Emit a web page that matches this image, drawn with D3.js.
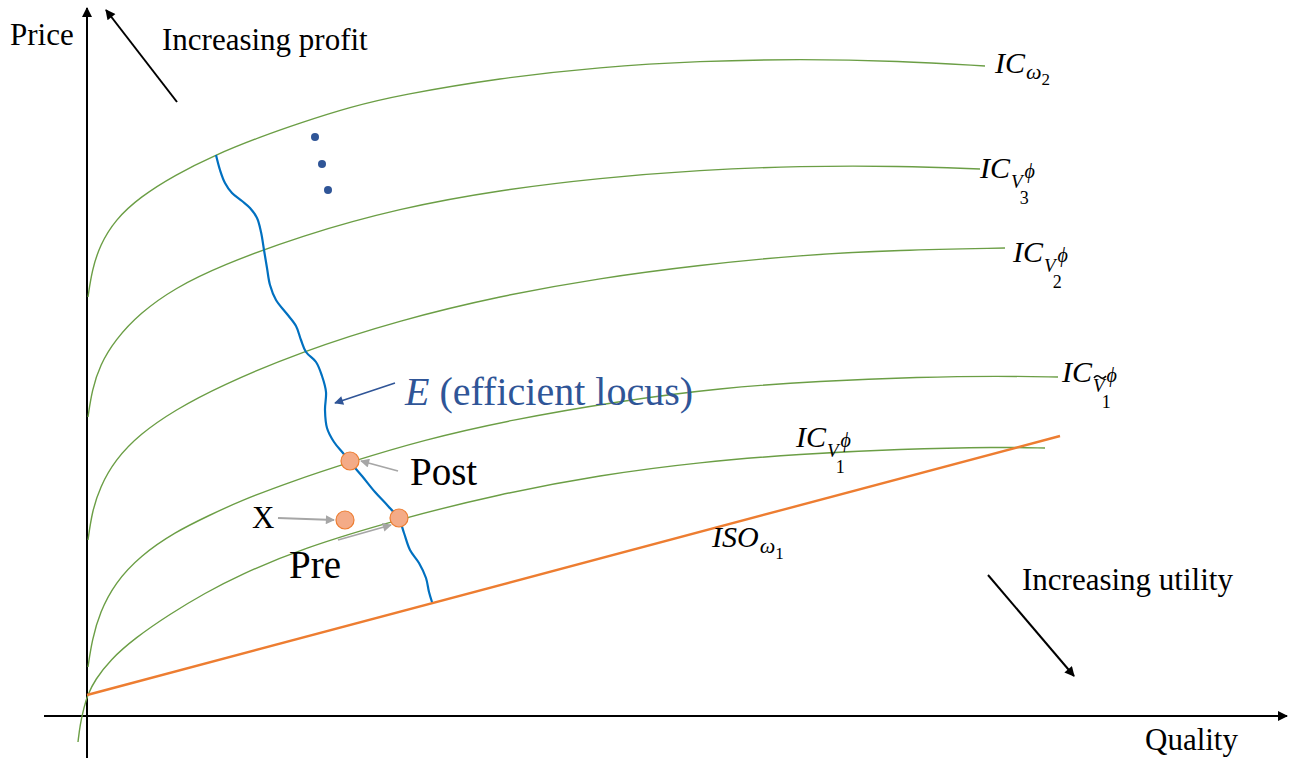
<!DOCTYPE html>
<html>
<head>
<meta charset="utf-8">
<script src="https://cdn.jsdelivr.net/npm/d3@7"></script>
<style>
  body { margin: 0; background: #fff; }
  svg { display: block; }
</style>
</head>
<body>
<svg id="chart" width="1291" height="761"></svg>
<script>
// values: [quality, price], origin where the axes cross
const icOmega2 = [[1,419],[5,446],[13,471],[28,496],[53,519],[88,541],[128,561],[173,579],[213,593],[263,609],[313,621],[413,638],[513,649],[613,655],[713,657],[813,655],[898,650]];
const icV3 = [[1,299],[5,326],[13,351],[28,376],[53,403],[88,428],[133,450],[213,480],[313,508],[413,526],[513,538],[613,546],[713,550],[813,550],[893,547]];
const icV2 = [[1,176],[5,204],[13,229],[28,256],[53,282],[88,306],[133,330],[213,364],[313,396],[413,420],[513,438],[613,451],[713,461],[813,466],[918,468]];
const icV1tilde = [[1,49],[5,76],[13,104],[28,133],[53,160],[88,184],[123,201],[153,215],[203,234],[263,254],[336,276],[423,296],[533,315],[633,328],[733,335],[833,339],[913,340],[971,339]];
const icV1 = [[-9,-26],[-7,-9],[-3,9],[1,22],[8,36],[23,56],[48,78],[83,102],[118,123],[153,141],[213,167],[312,197],[413,222],[513,241],[613,254],[713,262],[813,267],[913,269],[958,268]];
const isoOmega1 = [[0,21],[973,280]];
const efficientLocus = [[129,561],[133,546],[138,533],[145,523],[155,515],[163,508],[170,498],[174,484],[177,466],[180,448],[183,431],[189,416],[200,402],[209,390],[214,376],[219,364],[229,354],[235,340],[239,324],[238,306],[240,288],[247,274],[256,263],[263,254],[275,240],[288,224],[301,210],[312,197],[317,183],[323,166],[332,153],[339,138],[342,124],[345,114]];
const moreCurves = [[228,579],[235,552],[241,526]];
const contracts = [
  {name: 'Post', q: 263, p: 255},
  {name: 'X', q: 258, p: 196},
  {name: 'Pre', q: 312, p: 198}
];

const svg = d3.select('#chart');
const x = d3.scaleLinear().domain([0, 1200]).range([87, 1287]);
const y = d3.scaleLinear().domain([0, 716]).range([716, 0]);
const serif = '"Liberation Serif", "Times New Roman", serif';

const defs = svg.append('defs');
function marker(id, color, w, h) {
  defs.append('marker')
    .attr('id', id)
    .attr('viewBox', '0 0 10 10')
    .attr('refX', 9).attr('refY', 5)
    .attr('markerUnits', 'userSpaceOnUse')
    .attr('markerWidth', w).attr('markerHeight', h)
    .attr('orient', 'auto')
    .append('path')
    .attr('d', 'M0,0 L10,5 L0,10 Z')
    .attr('fill', color);
}
marker('arrBlack', '#000', 13, 10);
marker('arrGray', '#a6a6a6', 11, 9);
marker('arrBlue', '#2f5597', 12, 9);

// axes
svg.append('line')
  .attr('x1', x(-43)).attr('y1', y(0))
  .attr('x2', x(1200)).attr('y2', y(0))
  .attr('stroke', '#000').attr('stroke-width', 2)
  .attr('marker-end', 'url(#arrBlack)');
svg.append('line')
  .attr('x1', x(0)).attr('y1', y(-42))
  .attr('x2', x(0)).attr('y2', y(708))
  .attr('stroke', '#000').attr('stroke-width', 2)
  .attr('marker-end', 'url(#arrBlack)');

const icLine = d3.line()
  .x(d => x(d[0])).y(d => y(d[1]))
  .curve(d3.curveBasis);
const smooth = d3.line()
  .x(d => x(d[0])).y(d => y(d[1]))
  .curve(d3.curveCatmullRom.alpha(0.5));

[icOmega2, icV3, icV2, icV1tilde, icV1].forEach(c => {
  svg.append('path')
    .attr('d', icLine(c))
    .attr('fill', 'none')
    .attr('stroke', '#6b9e45')
    .attr('stroke-width', 1.4);
});

svg.append('path')
  .attr('d', smooth(isoOmega1))
  .attr('fill', 'none')
  .attr('stroke', '#ed7d31')
  .attr('stroke-width', 2.4);

svg.append('path')
  .attr('d', smooth(efficientLocus))
  .attr('fill', 'none')
  .attr('stroke', '#0070c0')
  .attr('stroke-width', 2.2);

svg.selectAll('.more')
  .data(moreCurves)
  .enter().append('circle')
  .attr('class', 'more')
  .attr('cx', d => x(d[0])).attr('cy', d => y(d[1]))
  .attr('r', 4)
  .attr('fill', '#2f5597');

// annotation arrows
function arrow(a, b, color, w, m) {
  svg.append('line')
    .attr('x1', x(a[0])).attr('y1', y(a[1]))
    .attr('x2', x(b[0])).attr('y2', y(b[1]))
    .attr('stroke', color).attr('stroke-width', w)
    .attr('marker-end', 'url(#' + m + ')');
}
arrow([90, 614], [19, 706], '#000', 2, 'arrBlack');
arrow([901, 141], [987, 40], '#000', 2, 'arrBlack');
arrow([308, 333], [248, 313], '#2f5597', 1.4, 'arrBlue');
arrow([311, 245], [274, 255], '#a6a6a6', 1.8, 'arrGray');
arrow([191, 198], [247, 196], '#a6a6a6', 1.8, 'arrGray');
arrow([251, 176], [304, 191], '#a6a6a6', 1.8, 'arrGray');

svg.selectAll('.contract')
  .data(contracts)
  .enter().append('circle')
  .attr('class', 'contract')
  .attr('cx', d => x(d.q)).attr('cy', d => y(d.p))
  .attr('r', 9)
  .attr('fill', '#f4ab87')
  .attr('stroke', '#ed7d31')
  .attr('stroke-width', 1.2);

// plain text
function label(t, px, py, size, color) {
  svg.append('text')
    .attr('x', px).attr('y', py)
    .attr('font-family', serif)
    .attr('font-size', size)
    .attr('fill', color || '#000')
    .text(t);
}
label('Price', 10, 45, 31);
label('Increasing profit', 162, 50, 31);
label('Increasing utility', 1022, 590, 31);
label('Quality', 1145, 750, 31);
label('Post', 410, 485, 39);
label('X', 252, 528, 31);
label('Pre', 289, 578, 39);

const eText = svg.append('text')
  .attr('x', 405).attr('y', 405)
  .attr('font-family', serif)
  .attr('font-size', 40)
  .attr('fill', '#2f5597');
eText.append('tspan').attr('font-style', 'italic').text('E');
eText.append('tspan').text(' (efficient locus)');

// IC / ISO labels with sub and superscripts
function icLabel(px, py, main, sub, num, sup, tilde) {
  const g = svg.append('g').attr('font-family', serif);
  const base = g.append('text').attr('x', px).attr('y', py)
    .attr('font-size', 30).attr('font-style', 'italic').text(main);
  const cx = px + base.node().getComputedTextLength() + 1;
  if (sub === 'ω') {
    const s = g.append('text').attr('x', cx).attr('y', py + 6)
      .attr('font-size', 22).attr('font-style', 'italic').text(sub);
    const sw = s.node().getComputedTextLength();
    g.append('text').attr('x', cx + sw).attr('y', py + 12)
      .attr('font-size', 17).text(num);
  } else {
    const s = g.append('text').attr('x', cx).attr('y', py + 10)
      .attr('font-size', 19).attr('font-style', 'italic').text(sub);
    const sw = s.node().getComputedTextLength();
    g.append('text').attr('x', cx + sw * 0.75).attr('y', py + 26)
      .attr('font-size', 18).text(num);
    g.append('text').attr('x', cx + sw + 2).attr('y', py)
      .attr('font-size', 20).attr('font-style', 'italic').text(sup);
    if (tilde) {
      // tilde accent over the V, drawn as a small wave
      const tx = cx + 1, ty = py - 6;
      g.append('path')
        .attr('d', `M${tx},${ty + 2} q3,-4 6,-1 t6,-1`)
        .attr('fill', 'none')
        .attr('stroke', '#000')
        .attr('stroke-width', 1.6);
    }
  }
}
icLabel(995, 73, 'IC', 'ω', '2');
icLabel(980, 178, 'IC', 'V', '3', 'ϕ');
icLabel(1013, 262, 'IC', 'V', '2', 'ϕ');
icLabel(1062, 382, 'IC', 'V', '1', 'ϕ', true);
icLabel(796, 447, 'IC', 'V', '1', 'ϕ');
icLabel(712, 547, 'ISO', 'ω', '1');
</script>
</body>
</html>
